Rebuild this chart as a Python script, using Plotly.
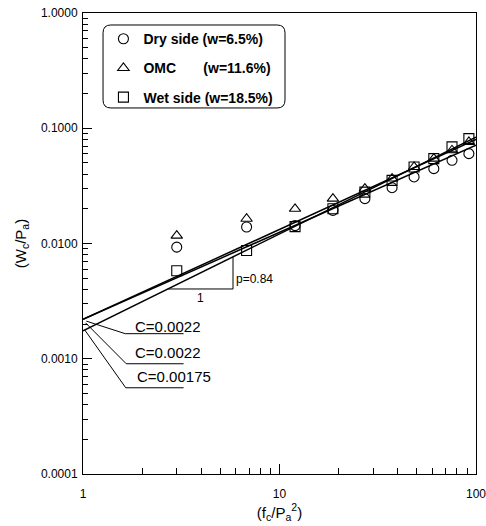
import numpy as np
import plotly.graph_objects as go

# Normalised frequency (f_c / P_a^2)
freq_ratio = [3, 6.8, 12, 18.7, 27.2, 37.4, 48.4, 61, 75.5, 92]

# Normalised dissipated energy (W_c / P_a) for each moisture state
dry_side = [0.0093, 0.0139, 0.0143, 0.0194, 0.0245, 0.0305, 0.0378, 0.0446, 0.0527, 0.0602]
omc = [0.0117, 0.0164, 0.0200, 0.0245, 0.0299, 0.0366, 0.0461, 0.0545, 0.0644, 0.0760]
wet_side = [0.0058, 0.0087, 0.0140, 0.0200, 0.0279, 0.0353, 0.0461, 0.0545, 0.0689, 0.0813]

series_names = ["Dry side (w=6.5%)", "OMC\u00a0\u00a0\u00a0\u00a0\u00a0\u00a0\u00a0(w=11.6%)", "Wet side (w=18.5%)"]
series_symbols = ["circle-open", "triangle-up-open", "square-open"]

# Power-law fits W/P = C * (f/P^2)^p
fit_C = [0.0022, 0.0022, 0.00175]
fit_p = [0.78, 0.755, 0.84]
fit_labels = ["C=0.0022", "C=0.0022", "C=0.00175"]
fit_x = [1, 100]

x_ticks = [1, 10, 100]
x_ticklabels = ["1", "10", "100"]
y_ticks = [0.0001, 0.001, 0.01, 0.1, 1]
y_ticklabels = ["0.0001", "0.0010", "0.0100", "0.1000", "1.0000"]

FONT = "Liberation Sans, Arial, sans-serif"

fig = go.Figure()

for name, sym, ys in zip(series_names, series_symbols, [dry_side, omc, wet_side]):
    fig.add_trace(go.Scatter(
        x=freq_ratio, y=ys, mode="markers", name=name, legendgroup=name,
        marker=dict(symbol=sym, size=10, color="black", line=dict(width=1.1, color="black")),
    ))

for C, p in zip(fit_C, fit_p):
    fig.add_trace(go.Scatter(
        x=fit_x, y=[C * x ** p for x in fit_x], mode="lines",
        line=dict(color="black", width=1.5), showlegend=False, hoverinfo="skip",
    ))

# Leader lines from the intercepts to the C labels
leader_start = [(1.04, 0.00212), (1.03, 0.00205), (1.02, 0.00178)]
leader_elbow = [(1.64, 0.00165), (1.66, 0.000905), (1.65, 0.00056)]
leader_end_x = 3.25
label_pos = [(2.68, 0.00192), (2.68, 0.00113), (2.92, 0.000695)]
for (sx, sy), (ex, ey), (lx, ly), txt in zip(leader_start, leader_elbow, label_pos, fit_labels):
    fig.add_trace(go.Scatter(
        x=[sx, ex, leader_end_x], y=[sy, ey, ey], mode="lines",
        line=dict(color="black", width=1), showlegend=False, hoverinfo="skip",
    ))
    fig.add_annotation(x=np.log10(lx), y=np.log10(ly), text=txt,
                       showarrow=False, font=dict(family=FONT, size=15, color="black"))

# Slope triangle on the C=0.00175 line
tri_x0, tri_x1 = 2.7, 5.8
Cd, pd_ = fit_C[2], fit_p[2]
tri_y0, tri_y1 = Cd * tri_x0 ** pd_, Cd * tri_x1 ** pd_
fig.add_trace(go.Scatter(
    x=[tri_x0, tri_x1, tri_x1], y=[tri_y0, tri_y0, tri_y1], mode="lines",
    line=dict(color="black", width=1), showlegend=False, hoverinfo="skip",
))
fig.add_annotation(x=np.log10(np.sqrt(tri_x0 * tri_x1)), y=np.log10(tri_y0), yshift=-9, text="1",
                   showarrow=False, font=dict(family=FONT, size=12, color="black"))
fig.add_annotation(x=np.log10(tri_x1), y=np.log10(tri_y0), xanchor="left", yanchor="bottom",
                   xshift=1, yshift=1,
                   text="p=0.84", showarrow=False, font=dict(family=FONT, size=12, color="black"))

# Rounded box around the legend
bx0, bx1, by0, by1, r = 0.051, 0.514, 0.794, 0.974, 0.02
ry = r * 393 / 461
path = (f"M {bx0 + r},{by1} L {bx1 - r},{by1} Q {bx1},{by1} {bx1},{by1 - ry} "
        f"L {bx1},{by0 + ry} Q {bx1},{by0} {bx1 - r},{by0} L {bx0 + r},{by0} "
        f"Q {bx0},{by0} {bx0},{by0 + ry} L {bx0},{by1 - ry} Q {bx0},{by1} {bx0 + r},{by1} Z")
fig.add_shape(type="path", path=path, xref="paper", yref="paper",
              line=dict(color="black", width=1))

axis_common = dict(
    type="log", showgrid=False, zeroline=False, showline=True, linecolor="black", linewidth=1,
    mirror=True, ticks="inside", tickcolor="black", automargin=False,
    ticklabeloverflow="allow",
    tickfont=dict(family=FONT, size=12, color="black"),
)

x_minor = [m * d for d in (1, 10) for m in range(2, 10)]
y_minor = [m * d for d in (0.0001, 0.001, 0.01, 0.1) for m in range(2, 10)]

fig.update_xaxes(
    **axis_common, range=[0, 2], tickvals=x_ticks, ticktext=x_ticklabels, ticklen=10,
    ticklabelstandoff=9,
    minor=dict(tickvals=x_minor, ticks="inside", ticklen=6, tickcolor="black"),
    title=dict(text="(f<sub>c</sub>/P<sub>a</sub><sup>2</sup>)", font=dict(family=FONT, size=15, color="black"),
               standoff=0),
)
fig.update_yaxes(
    **axis_common, range=[-4, 0], tickvals=y_ticks, ticktext=y_ticklabels, ticklen=9,
    ticklabelstandoff=2,
    minor=dict(tickvals=y_minor, ticks="inside", ticklen=5, tickcolor="black"),
    title=dict(text="(W<sub>c</sub>/P<sub>a</sub>)", font=dict(family=FONT, size=15, color="black"),
               standoff=10),
)

fig.update_layout(
    width=486, height=526,
    margin=dict(l=83, r=10, t=13, b=52),
    paper_bgcolor="white", plot_bgcolor="white",
    showlegend=True,
    legend=dict(x=0.052, y=0.978, xanchor="left", yanchor="top", bgcolor="rgba(0,0,0,0)",
                font=dict(family=FONT, size=14, color="black", weight="bold"),
                tracegroupgap=8, itemsizing="trace", itemwidth=30),
)

fig.write_html("out.html")
